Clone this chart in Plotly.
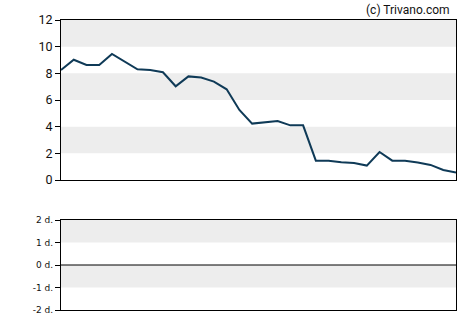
import plotly.graph_objects as go

values = [8.25, 9.02, 8.63, 8.63, 9.45, 8.87, 8.3, 8.25, 8.08, 7.03, 7.77, 7.68,
          7.38, 6.8, 5.25, 4.23, 4.35, 4.43, 4.1, 4.1, 1.45, 1.45, 1.33, 1.28,
          1.08, 2.1, 1.45, 1.45, 1.32, 1.13, 0.75, 0.57]
x_idx = list(range(len(values)))

top_ticks = [0, 2, 4, 6, 8, 10, 12]
bottom_ticks = [-2, -1, 0, 1, 2]
bottom_labels = ["-2 d.", "-1 d.", "0 d.", "1 d.", "2 d."]
top_bands = [(2, 4), (6, 8), (10, 12)]
bottom_bands = [(-1, 0), (1, 2)]

line_color = "#0f3a57"
band_color = "#ededed"

fig = go.Figure()
fig.add_trace(go.Scatter(x=x_idx, y=values, mode="lines",
                         line=dict(color=line_color, width=2),
                         xaxis="x", yaxis="y", hoverinfo="skip"))
fig.add_trace(go.Scatter(x=[x_idx[0], x_idx[-1]], y=[0, 0], mode="lines",
                         line=dict(color="black", width=1),
                         xaxis="x2", yaxis="y2", hoverinfo="skip"))

shapes = []
for lo, hi in top_bands:
    shapes.append(dict(type="rect", xref="x domain", yref="y", x0=0, x1=1,
                       y0=lo, y1=hi, fillcolor=band_color, line=dict(width=0),
                       layer="below"))
for lo, hi in bottom_bands:
    shapes.append(dict(type="rect", xref="x2 domain", yref="y2", x0=0, x1=1,
                       y0=lo, y1=hi, fillcolor=band_color, line=dict(width=0),
                       layer="below"))

axis_common = dict(showline=True, mirror=True, linecolor="black", linewidth=1,
                   showgrid=False, zeroline=False)

fig.update_layout(
    width=470, height=325,
    margin=dict(l=61, r=14, t=20, b=8),
    paper_bgcolor="white", plot_bgcolor="white",
    showlegend=False,
    shapes=shapes,
    xaxis=dict(domain=[0, 1], range=[0, len(values) - 1], showticklabels=False,
               ticks="", anchor="y", **axis_common),
    yaxis=dict(domain=[130 / 290, 1], range=[0, 12], tickvals=top_ticks,
               ticks="outside", ticklen=5, tickcolor="black",
               tickfont=dict(family="Roboto", size=12.5, color="#111"),
               anchor="x", **axis_common),
    xaxis2=dict(domain=[0, 1], range=[0, len(values) - 1], showticklabels=False,
                ticks="", anchor="y2", **axis_common),
    yaxis2=dict(domain=[0, 90 / 290], range=[-2, 2], tickvals=bottom_ticks,
                ticktext=bottom_labels, ticks="outside", ticklen=5,
                tickcolor="black",
                tickfont=dict(family="DejaVu Sans", size=9, color="#111"),
                anchor="x2", **axis_common),
    annotations=[dict(text="(c) Trivano.com", xref="paper", yref="paper",
                      x=1, y=1, xanchor="right", yanchor="bottom", yshift=1,
                      xshift=-4, showarrow=False,
                      font=dict(family="Roboto", size=12, color="#111"))],
)

fig.write_html("out.html")
